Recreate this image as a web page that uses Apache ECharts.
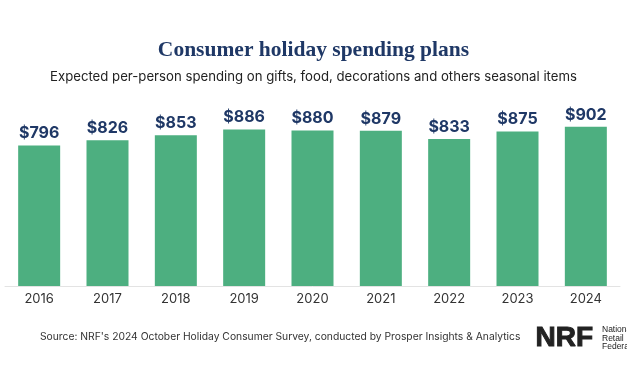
<!DOCTYPE html>
<html lang="en">
<head>
    <meta charset="UTF-8">
    <title>Consumer holiday spending plans</title>
    <script src="https://cdn.jsdelivr.net/npm/echarts@6/dist/echarts.min.js"></script>
    <style>
        body { margin: 0; background: #fff; }
        #chart { width: 627px; height: 376px; }
    </style>
</head>
<body>
    <div id="chart"></div>
</body>
<script>
    var years = ['2016', '2017', '2018', '2019', '2020', '2021', '2022', '2023', '2024'];
    var spending = [796, 826, 853, 886, 880, 879, 833, 875, 902];

    var navy = '#1f3866';
    var green = '#4daf80';

    var my = echarts.init(document.getElementById('chart'));

    var option = {
        backgroundColor: '#fff',
        animation: false,
        title: [
            {
                text: 'Consumer holiday spending plans',
                left: 'center',
                top: 34,
                textStyle: {
                    fontFamily: 'Liberation Serif',
                    fontWeight: 'bold',
                    fontSize: 21.5,
                    color: navy
                }
            },
            {
                text: 'Expected per-person spending on gifts, food, decorations and others seasonal items',
                left: 'center',
                top: 66,
                textStyle: {
                    fontFamily: 'Inter',
                    fontWeight: 'normal',
                    fontSize: 13.2,
                    color: '#222'
                }
            }
        ],
        grid: {
            left: 5,
            right: 7,
            top: 109.4,
            bottom: 90,
            containLabel: false
        },
        xAxis: {
            type: 'category',
            data: years,
            axisTick: { show: false },
            axisLine: { lineStyle: { color: '#e3e3e3', width: 1 } },
            axisLabel: {
                color: '#333',
                fontFamily: 'Inter',
                fontSize: 13,
                margin: 7
            }
        },
        yAxis: {
            type: 'value',
            min: 0,
            max: 1000,
            show: false,
            splitLine: { show: false }
        },
        series: [
            {
                type: 'bar',
                data: spending,
                barWidth: 42,
                itemStyle: { color: green },
                label: {
                    show: true,
                    position: 'top',
                    distance: 4,
                    formatter: '${c}',
                    color: navy,
                    fontFamily: 'Inter',
                    fontWeight: 'bold',
                    fontSize: 16
                }
            }
        ],
        graphic: [
            {
                type: 'text',
                left: 40,
                top: 332,
                style: {
                    text: "Source: NRF's 2024 October Holiday Consumer Survey, conducted by Prosper Insights & Analytics",
                    fontFamily: 'Inter',
                    fontSize: 10.3,
                    fill: '#333'
                }
            },
            {
                type: 'text',
                left: 535,
                top: 324,
                style: {
                    text: 'NRF',
                    fontFamily: 'Liberation Sans',
                    fontWeight: 'bold',
                    fontSize: 28,
                    fill: '#222',
                    stroke: '#222',
                    lineWidth: 1
                }
            },
            {
                type: 'text',
                left: 602,
                top: 325,
                style: {
                    text: 'National\nRetail\nFederation',
                    fontFamily: 'Liberation Sans',
                    fontSize: 8.5,
                    lineHeight: 8.8,
                    fill: '#222'
                }
            }
        ]
    };

    my.setOption(option);
</script>
</html>
